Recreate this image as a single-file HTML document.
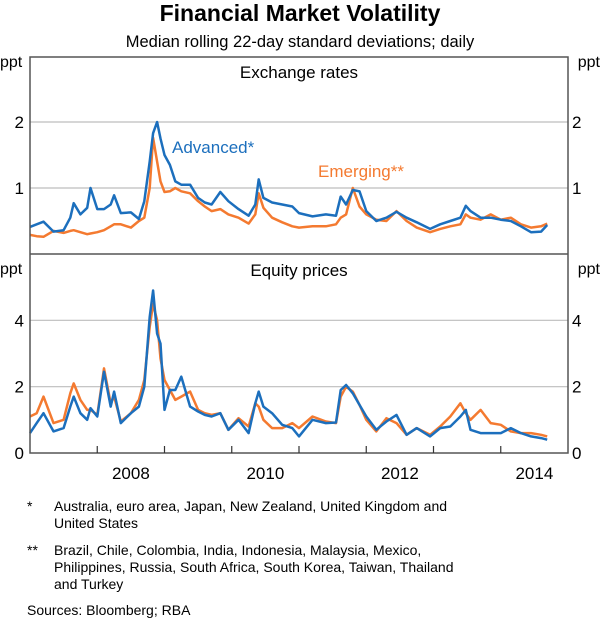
<!DOCTYPE html>
<html><head><meta charset="utf-8"><style>
html,body{margin:0;padding:0;background:#fff;}
svg{display:block;font-family:"Liberation Sans",Arial,sans-serif;}
</style></head><body>
<svg id="chart" width="600" height="621" viewBox="0 0 600 621" xmlns="http://www.w3.org/2000/svg">
<text x="300" y="21" text-anchor="middle" font-size="23" font-weight="bold" fill="#000">Financial Market Volatility</text>
<text x="300" y="47" text-anchor="middle" font-size="16.5" fill="#000">Median rolling 22-day standard deviations; daily</text>
<g id="grid"></g>
<g id="series"></g>
<g id="axes"></g>
<text x="299" y="78" text-anchor="middle" font-size="17" fill="#000">Exchange rates</text>
<text x="299" y="276" text-anchor="middle" font-size="17" fill="#000">Equity prices</text>
<text x="172" y="153" font-size="17" fill="#1c6fbd">Advanced*</text>
<text x="318" y="177" font-size="17" fill="#f47a30">Emerging**</text>
<g font-size="14" fill="#000">
<text x="27" y="511">*</text>
<text x="54" y="511">Australia, euro area, Japan, New Zealand, United Kingdom and</text>
<text x="54" y="528">United States</text>
<text x="27" y="555">**</text>
<text x="54" y="555">Brazil, Chile, Colombia, India, Indonesia, Malaysia, Mexico,</text>
<text x="54" y="572">Philippines, Russia, South Africa, South Korea, Taiwan, Thailand</text>
<text x="54" y="589">and Turkey</text>
<text x="27" y="615">Sources:  Bloomberg; RBA</text>
</g>
</svg>
<script>
const dates = [2007.0,2007.1,2007.2,2007.35,2007.5,2007.6,2007.65,2007.75,2007.85,2007.9,2008.0,2008.1,2008.2,2008.25,2008.35,2008.5,2008.62,2008.7,2008.78,2008.83,2008.89,2008.94,2009.0,2009.08,2009.16,2009.25,2009.38,2009.5,2009.6,2009.7,2009.83,2009.95,2010.1,2010.25,2010.35,2010.4,2010.47,2010.6,2010.75,2010.9,2011.0,2011.2,2011.4,2011.55,2011.62,2011.7,2011.8,2011.9,2012.0,2012.15,2012.3,2012.45,2012.6,2012.75,2012.95,2013.1,2013.25,2013.4,2013.48,2013.55,2013.7,2013.85,2014.0,2014.15,2014.3,2014.45,2014.6,2014.69];
const fxAdvanced = [0.41,0.45,0.49,0.34,0.36,0.55,0.77,0.6,0.7,1.0,0.68,0.68,0.75,0.89,0.62,0.63,0.53,0.8,1.4,1.83,2.0,1.75,1.5,1.35,1.1,1.05,1.05,0.85,0.78,0.75,0.94,0.8,0.68,0.58,0.75,1.13,0.85,0.78,0.75,0.72,0.62,0.57,0.6,0.58,0.87,0.75,0.97,0.95,0.65,0.5,0.55,0.64,0.55,0.48,0.38,0.45,0.5,0.55,0.73,0.65,0.55,0.55,0.52,0.5,0.42,0.33,0.34,0.44];
const fxEmerging = [0.29,0.27,0.26,0.35,0.32,0.35,0.36,0.33,0.3,0.31,0.33,0.36,0.42,0.45,0.45,0.4,0.5,0.55,1.0,1.76,1.4,1.1,0.94,0.95,1.0,0.95,0.92,0.8,0.72,0.65,0.68,0.6,0.55,0.46,0.6,0.92,0.7,0.55,0.48,0.42,0.4,0.42,0.42,0.45,0.55,0.6,1.0,0.72,0.6,0.52,0.5,0.65,0.5,0.4,0.33,0.38,0.42,0.45,0.6,0.55,0.52,0.6,0.52,0.55,0.45,0.4,0.42,0.46];
const eqAdvanced = [0.6,0.9,1.2,0.65,0.75,1.4,1.7,1.2,1.0,1.35,1.1,2.45,1.4,1.85,0.9,1.2,1.4,2.0,4.1,4.9,3.6,3.3,1.3,1.9,1.9,2.3,1.4,1.25,1.15,1.1,1.2,0.7,1.0,0.6,1.5,1.85,1.4,1.2,0.85,0.75,0.5,1.0,0.9,0.92,1.9,2.05,1.8,1.45,1.1,0.7,0.95,1.15,0.55,0.75,0.5,0.75,0.8,1.1,1.3,0.7,0.6,0.6,0.6,0.75,0.6,0.5,0.45,0.4];
const eqEmerging = [1.1,1.2,1.7,0.9,1.0,1.8,2.1,1.6,1.3,1.3,1.15,2.55,1.5,1.7,0.95,1.2,1.6,2.2,3.8,4.5,4.0,2.85,2.2,1.9,1.6,1.7,1.85,1.3,1.2,1.15,1.2,0.7,1.05,0.8,1.5,1.4,1.0,0.75,0.75,0.9,0.75,1.1,0.95,0.9,1.7,2.0,1.85,1.45,1.0,0.65,1.05,0.9,0.55,0.75,0.55,0.8,1.1,1.5,1.2,1.0,1.3,0.9,0.85,0.65,0.6,0.6,0.55,0.5];
const fxTicks = [1,2];
const eqTicks = [2,4];
const eqAxisLabels = [0,2,4];
const yearTicks = [2008,2009,2010,2011,2012,2013,2014];
const yearLabels = [2008,2010,2012,2014];

const NS="http://www.w3.org/2000/svg";
const L=30,R=568,T=57,MID=254,B=453;
const x=d=>L+(d-2007)*(R-L)/8;
const yFx=v=>MID-v*66;
const yEq=v=>B-v*(B-MID)/6;
function mk(tag,attrs,parent){const e=document.createElementNS(NS,tag);for(const k in attrs)e.setAttribute(k,attrs[k]);parent.appendChild(e);return e;}
const grid=document.getElementById('grid'),ser=document.getElementById('series'),ax=document.getElementById('axes');
fxTicks.forEach(v=>{
  const l=mk('line',{x1:L,x2:R,y1:yFx(v),y2:yFx(v),stroke:'#bdbdbd','stroke-width':1.2},grid);
  
  
  [[24,'end'],[572,'start']].forEach(([px,an])=>{
    const t=mk('text',{x:px,y:yFx(v)+6,'text-anchor':an,'font-size':17},ax);t.textContent=v;
    
    
  });
});
eqTicks.forEach(v=>{
  const l=mk('line',{x1:L,x2:R,y1:yEq(v),y2:yEq(v),stroke:'#bdbdbd','stroke-width':1.2},grid);
  
  
});
eqAxisLabels.forEach(v=>{
  [[24,'end'],[572,'start']].forEach(([px,an])=>{
    const t=mk('text',{x:px,y:yEq(v)+6,'text-anchor':an,'font-size':17},ax);t.textContent=v;
    
    
  });
});
[[T+10],[MID+20]].forEach(([py])=>{
  [[0,'start'],[600,'end']].forEach(([px,an])=>{
    const t=mk('text',{x:px,y:py,'text-anchor':an,'font-size':16},ax);t.textContent='ppt';
    
    
  });
});
function line(vals,yf,color,name){
  const d=vals.map((v,i)=>(i?'L':'M')+x(dates[i]).toFixed(1)+','+yf(v).toFixed(1)).join('');
  const p=mk('path',{d:d,fill:'none',stroke:color,'stroke-width':2.5,'stroke-linejoin':'round'},ser);
  
  
}
line(fxEmerging,yFx,'#f47a30','fx-emerging-line');
line(fxAdvanced,yFx,'#1c6fbd','fx-advanced-line');
line(eqEmerging,yEq,'#f47a30','eq-emerging-line');
line(eqAdvanced,yEq,'#1c6fbd','eq-advanced-line');
const f=mk('rect',{x:L,y:T,width:R-L,height:B-T,fill:'none',stroke:'#555','stroke-width':1.5},ax);


const s=mk('line',{x1:L,x2:R,y1:MID,y2:MID,stroke:'#555','stroke-width':1.5},ax);


yearTicks.forEach(yr=>{
  const t=mk('line',{x1:x(yr),x2:x(yr),y1:B,y2:B-7,stroke:'#333','stroke-width':1.2},ax);
  
  
});
yearLabels.forEach(yr=>{
  const t=mk('text',{x:x(yr+0.5),y:479,'text-anchor':'middle','font-size':17},ax);t.textContent=yr;
  
  
});
</script>
</body></html>
